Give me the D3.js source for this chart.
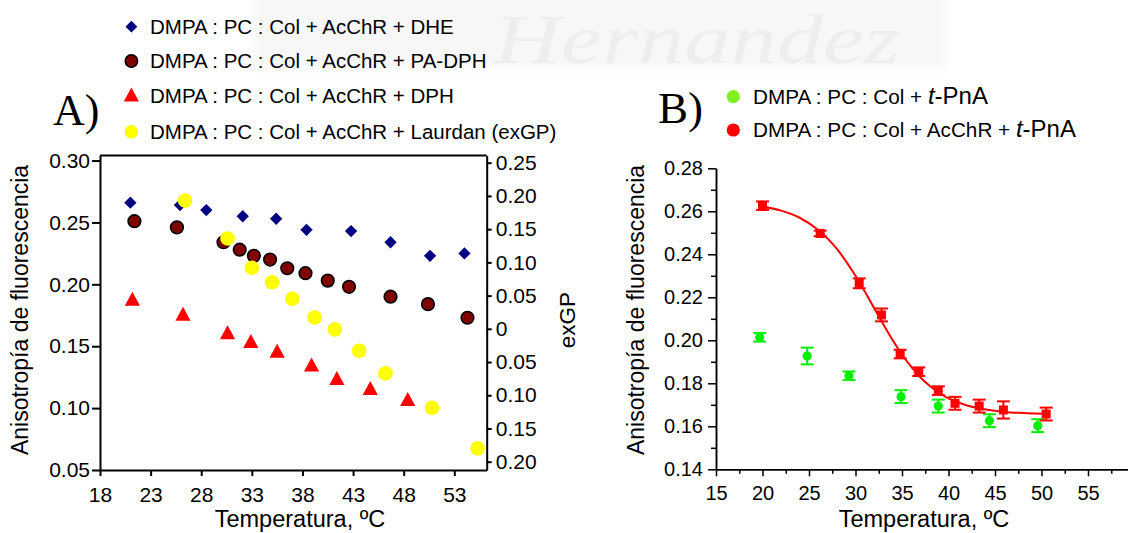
<!DOCTYPE html>
<html>
<head>
<meta charset="utf-8">
<script src="https://cdn.jsdelivr.net/npm/d3@7"></script>
<style>
  body { margin: 0; background: #fff; }
  svg { display: block; }
  text { font-family: "Liberation Sans", Arial, sans-serif; fill: #000; }
</style>
</head>
<body>
<svg id="chart" width="1128" height="533"></svg>
<script>
// ---------- Panel A data: temperature (ºC), anisotropy / exGP ----------
const dheData    = [[21.0,0.266],[25.9,0.264],[28.5,0.260],[32.1,0.255],[35.4,0.253],[38.4,0.244],[42.8,0.243],[46.7,0.234],[50.6,0.223],[54.0,0.225]];
const paDphData  = [[21.4,0.251],[25.6,0.246],[30.2,0.234],[31.8,0.228],[33.2,0.223],[34.8,0.220],[36.5,0.213],[38.3,0.209],[40.5,0.203],[42.6,0.198],[46.7,0.190],[50.4,0.184],[54.3,0.173]];
const dphData    = [[21.2,0.187],[26.2,0.175],[30.6,0.160],[32.9,0.153],[35.5,0.145],[38.9,0.134],[41.4,0.123],[44.7,0.115],[48.4,0.106]];
const laurdanGP  = [[26.4,0.193],[30.6,0.136],[33.0,0.092],[35.0,0.070],[37.0,0.045],[39.2,0.017],[41.2,-0.001],[43.6,-0.033],[46.2,-0.067],[50.8,-0.119],[55.3,-0.180]];

const xTicksA = [18,23,28,33,38,43,48,53];
const yTicksA = [0.05,0.10,0.15,0.20,0.25,0.30];
const yTickLabelsA = ["0.05","0.10","0.15","0.20","0.25","0.30"];
const gpTicks = [-0.20,-0.15,-0.10,-0.05,0,0.05,0.10,0.15,0.20,0.25];
const gpTickLabels = ["0.20","0.15","0.10","0.05","0","0.05","0.10","0.15","0.20","0.25"];

const legendA = [
  "DMPA : PC : Col + AcChR + DHE",
  "DMPA : PC : Col + AcChR + PA-DPH",
  "DMPA : PC : Col + AcChR + DPH",
  "DMPA : PC : Col + AcChR + Laurdan (exGP)"
];

// ---------- Panel B data: temperature (ºC), anisotropy, error ----------
const tpnaNoReceptor = [[19.7,0.2014,0.002],[24.8,0.1927,0.0039],[29.3,0.1835,0.002],[34.9,0.1738,0.003],[38.9,0.1694,0.003],[44.4,0.1626,0.003],[49.6,0.1603,0.003]];
const tpnaReceptor   = [[20.0,0.2626,0.002],[26.2,0.2497,0.0013],[30.4,0.2265,0.0023],[32.8,0.2118,0.003],[34.8,0.1936,0.002],[36.8,0.1854,0.002],[38.9,0.1766,0.002],[40.7,0.1707,0.003],[43.3,0.1694,0.003],[45.9,0.1676,0.004],[50.5,0.1657,0.003]];
// sigmoidal fit drawn through the receptor series
const fitX = [19.8,22,24,26,28,30,31,32,33,34,35,36,37,38,39,40,42,44,46,48,50.8];
const fitY = [0.2624,0.2603,0.2570,0.2513,0.2425,0.2300,0.2227,0.2150,0.2073,0.2000,0.1934,0.1876,0.1827,0.1787,0.1755,0.1730,0.1697,0.1678,0.1667,0.1662,0.1658];

const xTicksB = [15,20,25,30,35,40,45,50,55];
const xMinorB = [17.5,22.5,27.5,32.5,37.5,42.5,47.5,52.5,57.5];
const yTicksB = [0.14,0.16,0.18,0.20,0.22,0.24,0.26,0.28];
const yMinorB = [0.15,0.17,0.19,0.21,0.23,0.25,0.27];

const svg = d3.select("#chart");

// faint watermark band along the top
const defs = svg.append("defs");
defs.append("filter").attr("id", "soft").attr("x", "-10%").attr("y", "-50%").attr("width", "120%").attr("height", "200%")
  .append("feGaussianBlur").attr("stdDeviation", 5);
svg.append("rect").attr("x", 255).attr("y", -20).attr("width", 690).attr("height", 88)
  .attr("fill", "#f7f7f7").attr("filter", "url(#soft)");
svg.append("text").attr("x", 494).attr("y", 63)
  .attr("textLength", 406).attr("lengthAdjust", "spacingAndGlyphs")
  .style("font-family", "'Liberation Serif', 'Times New Roman', serif")
  .style("font-style", "italic").style("font-size", "70px").style("fill", "#eeeeee")
  .text("Hernandez");

// ================= Panel A =================
const xA = d3.scaleLinear().domain([18, 56.2]).range([100, 486.7]);
const yA = d3.scaleLinear().domain([0.05, 0.304]).range([470, 155.6]);
const yGP = d3.scaleLinear().domain([-0.2125, 0.2607]).range([470, 155.6]);

const gA = svg.append("g");

function styleAxis(g, fs, sw) {
  g.select(".domain").attr("stroke", "#000").attr("stroke-width", sw);
  g.selectAll(".tick line").attr("stroke", "#000").attr("stroke-width", sw);
  g.selectAll(".tick text").style("font-size", fs + "px").style("font-family", "'Liberation Sans', Arial, sans-serif").attr("fill", "#000");
}

gA.append("g").attr("transform", "translate(100,0)")
  .call(d3.axisLeft(yA).tickValues(yTicksA).tickFormat((d, i) => yTickLabelsA[i]).tickSize(8).tickSizeOuter(0).tickPadding(2))
  .call(g => styleAxis(g, 21, 2));

gA.append("g").attr("transform", "translate(486.7,0)")
  .call(d3.axisRight(yGP).tickValues(gpTicks).tickFormat((d, i) => gpTickLabels[i]).tickSize(5).tickSizeOuter(0).tickPadding(4))
  .call(g => styleAxis(g, 21, 2));

gA.append("g").attr("transform", "translate(0,470)")
  .call(d3.axisBottom(xA).tickValues(xTicksA).tickFormat(d3.format("d")).tickSize(6).tickSizeOuter(0).tickPadding(11))
  .call(g => styleAxis(g, 21, 2));

gA.append("line").attr("x1", 100).attr("x2", 486.7).attr("y1", 155.6).attr("y2", 155.6)
  .attr("stroke", "#000").attr("stroke-width", 2);

// series A
const diamond = d3.symbol().type(d3.symbolSquare).size(76);
gA.append("g").selectAll("path").data(dheData).join("path")
  .attr("d", diamond)
  .attr("transform", d => `translate(${xA(d[0])},${yA(d[1])}) rotate(45)`)
  .attr("fill", "#000080");

gA.append("g").selectAll("circle").data(paDphData).join("circle")
  .attr("cx", d => xA(d[0])).attr("cy", d => yA(d[1])).attr("r", 6.3)
  .attr("fill", "#800000").attr("stroke", "#000").attr("stroke-width", 1.6);

const tri = d => `M0,-8.6L7.6,5.4L-7.6,5.4Z`;
gA.append("g").selectAll("path").data(dphData).join("path")
  .attr("d", tri)
  .attr("transform", d => `translate(${xA(d[0])},${yA(d[1])})`)
  .attr("fill", "#ff0000");

gA.append("g").selectAll("circle").data(laurdanGP).join("circle")
  .attr("cx", d => xA(d[0])).attr("cy", d => yGP(d[1])).attr("r", 7.3)
  .attr("fill", "#ffff00");

// axis titles A
svg.append("text").attr("transform", "translate(28,310) rotate(-90)")
  .attr("text-anchor", "middle").style("font-size", "23px")
  .text("Anisotropía  de  fluorescencia");
svg.append("text").attr("x", 300).attr("y", 527).attr("text-anchor", "middle")
  .style("font-size", "23.5px").text("Temperatura, ºC");
svg.append("text").attr("transform", "translate(575,320) rotate(-90)")
  .attr("text-anchor", "middle").style("font-size", "22.5px").text("exGP");

// panel label and legend A
svg.append("text").attr("x", 53).attr("y", 125)
  .style("font-family", "'Liberation Serif', 'Times New Roman', serif").style("font-size", "44px").text("A)");

const legARows = [26.7, 61, 96, 131.7];
const legA = svg.append("g");
legARows.forEach((y, i) => {
  const mx = 131.4;
  if (i === 0) legA.append("path").attr("d", d3.symbol().type(d3.symbolSquare).size(70)())
    .attr("transform", `translate(${mx},${y}) rotate(45)`).attr("fill", "#000080");
  if (i === 1) legA.append("circle").attr("cx", mx).attr("cy", y).attr("r", 6.2)
    .attr("fill", "#800000").attr("stroke", "#000").attr("stroke-width", 1.5);
  if (i === 2) legA.append("path").attr("d", tri).attr("transform", `translate(${mx},${y})`).attr("fill", "#ff0000");
  if (i === 3) legA.append("circle").attr("cx", mx).attr("cy", y).attr("r", 6.8).attr("fill", "#ffff00");
  legA.append("text").attr("x", 150).attr("y", y).attr("dy", "0.35em")
    .style("font-size", "20.5px").text(legendA[i]);
});

// ================= Panel B =================
const xB = d3.scaleLinear().domain([15, 60]).range([716, 1134.5]);
const yB = d3.scaleLinear().domain([0.14, 0.28]).range([469.3, 168.3]);
const gB = svg.append("g");

gB.append("g").attr("transform", "translate(716,0)")
  .call(d3.axisLeft(yB).tickValues(yMinorB).tickFormat("").tickSize(5).tickSizeOuter(0))
  .call(g => styleAxis(g, 20, 1.5));
gB.append("g").attr("transform", "translate(716,0)")
  .call(d3.axisLeft(yB).tickValues(yTicksB).tickFormat(d3.format(".2f")).tickSize(8).tickSizeOuter(0).tickPadding(5))
  .call(g => styleAxis(g, 20, 1.5));

gB.append("g").attr("transform", "translate(0,469.3)")
  .call(d3.axisBottom(xB).tickValues(xMinorB).tickFormat("").tickSize(4.5).tickSizeOuter(0))
  .call(g => styleAxis(g, 20, 1.5));
gB.append("g").attr("transform", "translate(0,469.3)")
  .call(d3.axisBottom(xB).tickValues(xTicksB).tickFormat(d3.format("d")).tickSize(7).tickSizeOuter(0).tickPadding(10))
  .call(g => styleAxis(g, 20, 1.5));

// fit curve
gB.append("path")
  .datum(fitX.map((x, i) => [x, fitY[i]]))
  .attr("d", d3.line().x(d => xB(d[0])).y(d => yB(d[1])).curve(d3.curveCatmullRom))
  .attr("fill", "none").attr("stroke", "#ff0000").attr("stroke-width", 2);

function errorBars(g, data, color) {
  const eg = g.append("g").attr("stroke", color).attr("stroke-width", 2);
  data.forEach(d => {
    const x = xB(d[0]), y0 = yB(d[1] - d[2]), y1 = yB(d[1] + d[2]);
    eg.append("line").attr("x1", x).attr("x2", x).attr("y1", y0).attr("y2", y1);
    eg.append("line").attr("x1", x - 6.5).attr("x2", x + 6.5).attr("y1", y0).attr("y2", y0);
    eg.append("line").attr("x1", x - 6.5).attr("x2", x + 6.5).attr("y1", y1).attr("y2", y1);
  });
}

errorBars(gB, tpnaNoReceptor, "#00f000");
gB.append("g").selectAll("circle").data(tpnaNoReceptor).join("circle")
  .attr("cx", d => xB(d[0])).attr("cy", d => yB(d[1])).attr("r", 4.6).attr("fill", "#00f000");

errorBars(gB, tpnaReceptor, "#ff0000");
gB.append("g").selectAll("rect").data(tpnaReceptor).join("rect")
  .attr("x", d => xB(d[0]) - 4.5).attr("y", d => yB(d[1]) - 4.5)
  .attr("width", 9).attr("height", 9).attr("fill", "#ff0000");

// axis titles B
svg.append("text").attr("transform", "translate(644,310) rotate(-90)")
  .attr("text-anchor", "middle").style("font-size", "23px")
  .text("Anisotropía  de  fluorescencia");
svg.append("text").attr("x", 924).attr("y", 527).attr("text-anchor", "middle")
  .style("font-size", "23.5px").text("Temperatura, ºC");

// panel label and legend B
svg.append("text").attr("x", 658).attr("y", 123)
  .style("font-family", "'Liberation Serif', 'Times New Roman', serif").style("font-size", "45px").text("B)");

const legendB = [
  { pre: "DMPA : PC : Col + ", color: "#80f020", y: 96.7 },
  { pre: "DMPA : PC : Col + AcChR + ", color: "#ff0000", y: 130 }
];
legendB.forEach(r => {
  svg.append("circle").attr("cx", 733.3).attr("cy", r.y).attr("r", 6.6).attr("fill", r.color);
  const t = svg.append("text").attr("x", 753).attr("y", r.y).attr("dy", "0.35em").style("font-size", "20.7px");
  t.append("tspan").text(r.pre);
  t.append("tspan").style("font-style", "italic").style("font-size", "24px").text("t");
  t.append("tspan").style("font-size", "24px").text("-PnA");
});
</script>
</body>
</html>
